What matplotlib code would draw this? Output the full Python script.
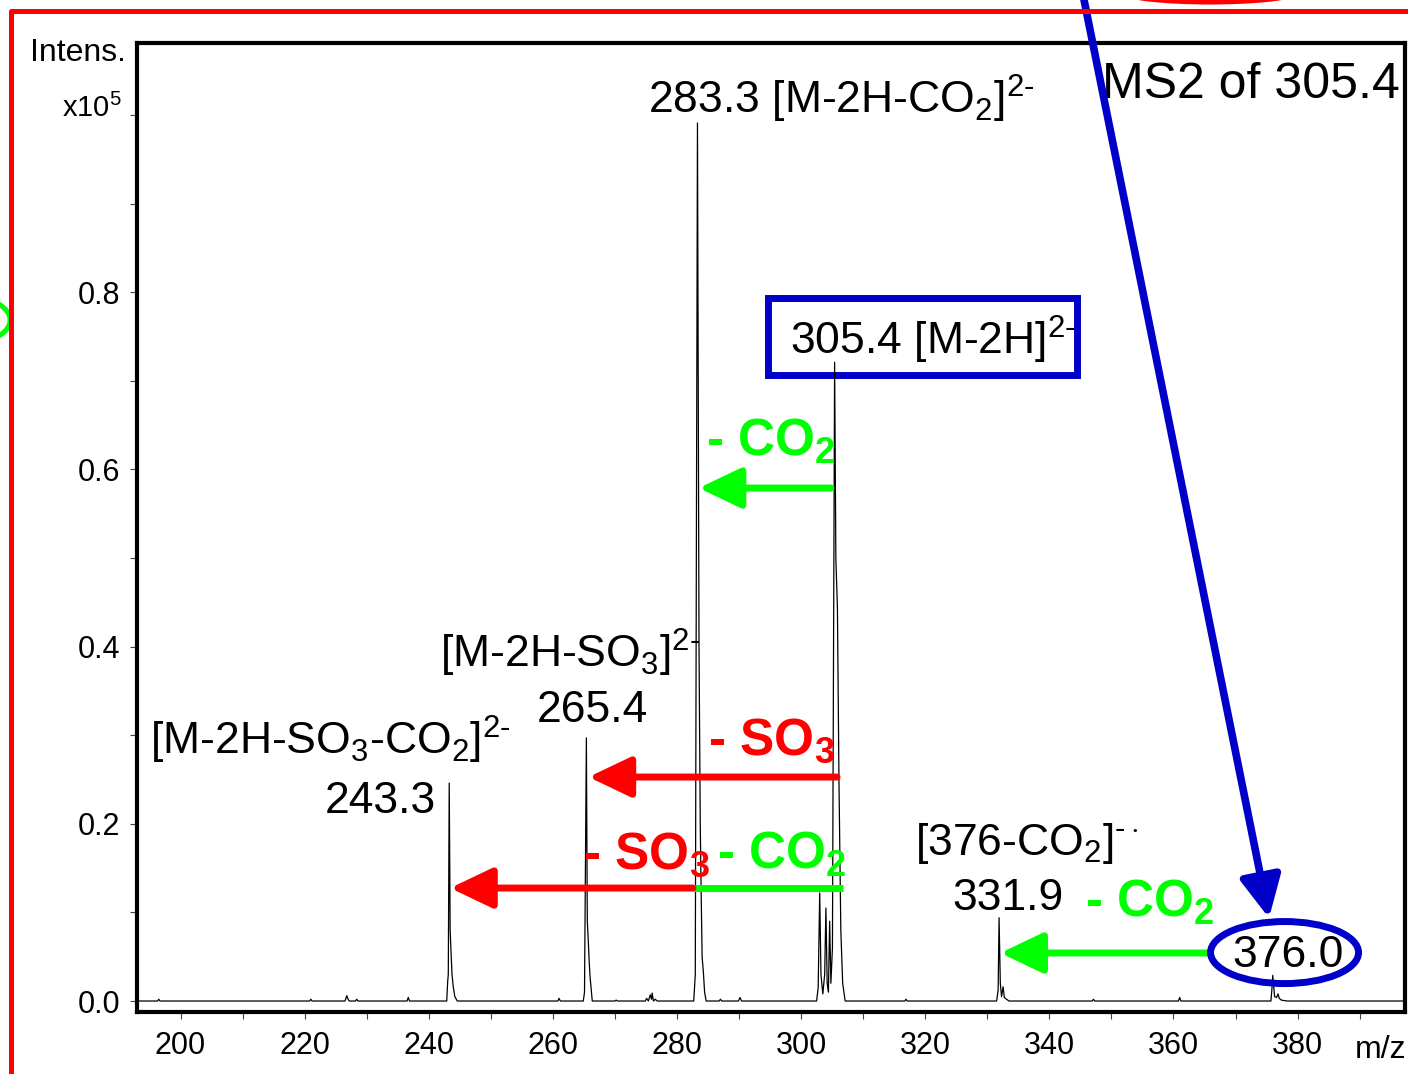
import numpy as np
import matplotlib
matplotlib.use('Agg')
import matplotlib.pyplot as plt
from matplotlib.patches import Ellipse, Rectangle
from matplotlib.lines import Line2D
from matplotlib.ticker import MultipleLocator, FixedLocator, FormatStrFormatter

plt.rcParams['font.family'] = ['Liberation Sans', 'DejaVu Sans']
plt.rcParams['mathtext.fontset'] = 'custom'
plt.rcParams['mathtext.rm'] = 'Liberation Sans'
plt.rcParams['mathtext.it'] = 'Liberation Sans'
plt.rcParams['mathtext.bf'] = 'Liberation Sans:bold'

# MS2 profile trace: m/z and intensity (x10^5)
mz = [193.0, 196.3, 196.5, 196.7, 220.8, 221.0, 221.2,
      226.5, 226.8, 227.0, 227.2, 228.2, 228.4, 228.6, 236.5, 236.7, 236.9,
      242.9, 243.05, 243.15, 243.3, 243.45, 243.6, 243.75, 243.95, 244.2, 244.6,
      260.8, 261.0, 261.2,
      264.9, 265.1, 265.4, 265.55, 265.7, 265.85, 266.0, 266.35,
      270.0, 270.2, 270.4, 274.9, 275.1, 275.4, 275.7, 275.9, 276.0, 276.2, 276.5, 276.8,
      282.7, 282.95, 283.3, 283.55, 283.75, 283.9, 284.05, 284.25, 284.45, 284.7,
      286.8, 287.0, 287.2, 289.9, 290.15, 290.4,
      302.5, 302.75, 303.0, 303.2, 303.5, 303.8, 304.0, 304.2, 304.4, 304.6, 304.8,
      305.05, 305.4, 305.6, 305.85, 306.1, 306.4, 306.7, 307.1,
      316.7, 316.9, 317.1,
      331.5, 331.75, 331.9, 332.1, 332.3, 332.55, 332.75, 333.1, 333.5,
      346.9, 347.1, 347.3, 360.8, 361.0, 361.2,
      375.7, 375.85, 376.0, 376.3, 376.6, 376.85, 377.05, 377.4, 378.3, 397.4]
intens = [0, 0, 0.002, 0, 0, 0.002, 0,
          0, 0.006, 0.002, 0, 0, 0.002, 0, 0, 0.004, 0,
          0, 0.022, 0.03, 0.246, 0.08, 0.054, 0.03, 0.016, 0.005, 0,
          0, 0.003, 0,
          0, 0.01, 0.297, 0.09, 0.069, 0.045, 0.027, 0,
          0, 0.001, 0, 0, 0.003, 0, 0.007, 0.002, 0.009, 0, 0.002, 0,
          0, 0.03, 0.991, 0.4, 0.2, 0.12, 0.05, 0.033, 0.01, 0,
          0, 0.002, 0, 0, 0.004, 0,
          0, 0.015, 0.122, 0.03, 0.008, 0.03, 0.105, 0.02, 0.01, 0.09, 0.02,
          0.06, 0.721, 0.5, 0.445, 0.25, 0.08, 0.02, 0,
          0, 0.002, 0,
          0, 0.012, 0.094, 0.02, 0.005, 0.016, 0.004, 0.002, 0,
          0, 0.002, 0, 0, 0.004, 0,
          0, 0.012, 0.029, 0.005, 0.004, 0.008, 0.003, 0.001, 0, 0]

x_major = [200, 220, 240, 260, 280, 300, 320, 340, 360, 380]
y_major = [0.0, 0.2, 0.4, 0.6, 0.8]
y_minor = [0.1, 0.3, 0.5, 0.7, 0.9, 1.0]

BLUE = '#0000C8'
RED = '#FF0000'
GREEN = '#00FF00'
CHG2 = '$^{2\\text{-}}$'

W, H = 1408, 1074
fig = plt.figure(figsize=(W / 100, H / 100), dpi=100)
ax = fig.add_axes([137 / W, 62 / H, 1268 / W, 969 / H])

ax.plot(mz, intens, color='black', lw=0.9)
ax.set_xlim(192.99, 397.31)
ax.set_ylim(-0.0124, 1.0813)

ax.xaxis.set_major_locator(FixedLocator(x_major))
ax.xaxis.set_minor_locator(MultipleLocator(10))
ax.yaxis.set_major_locator(FixedLocator(y_major))
ax.yaxis.set_minor_locator(FixedLocator(y_minor))
ax.yaxis.set_major_formatter(FormatStrFormatter('%.1f'))
ax.tick_params(which='both', direction='out', length=5, width=0.8, color='#444444')
ax.tick_params(axis='x', labelsize=22, pad=9)
ax.tick_params(axis='y', labelsize=22, pad=7)
for s in ax.spines.values():
    s.set_linewidth(3)

# peak labels
ax.text(275.33, 1.002, '283.3 [M-2H-CO$_2$]' + CHG2, fontsize=32, va='baseline')
ax.text(396.5, 1.019, 'MS2 of 305.4', fontsize=36, ha='right', va='baseline')
ax.text(298.2, 0.729, '305.4 [M-2H]' + CHG2, fontsize=32, va='baseline')
ax.add_patch(Rectangle((294.67, 0.7065), 49.79, 0.087, fill=False, ec=BLUE, lw=5))
ax.text(241.8, 0.376, '[M-2H-SO$_3$]' + CHG2, fontsize=32, va='baseline')
ax.text(257.4, 0.315, '265.4', fontsize=32, va='baseline')
ax.text(195.1, 0.278, '[M-2H-SO$_3$-CO$_2$]' + CHG2, fontsize=32, va='baseline')
ax.text(223.3, 0.212, '243.3', fontsize=32, va='baseline')
ax.text(318.35, 0.165, '[376-CO$_2$]$^{\\text{-}\\cdot}$', fontsize=32, va='baseline')
ax.text(324.3, 0.103, '331.9', fontsize=32, va='baseline')
ax.text(369.43, 0.038, '376.0', fontsize=32, va='baseline')
ax.add_patch(Ellipse((377.9, 0.0547), 23.85, 0.070, fill=False, ec=BLUE, lw=5,
                     clip_on=False, zorder=4))

# neutral losses
ax.text(284.68, 0.616, '- CO$_\\mathbf{2}$', fontsize=37, fontweight='bold', color=GREEN, va='baseline')
ax.text(285.0, 0.2777, '- SO$_\\mathbf{3}$', fontsize=37, fontweight='bold', color=RED, va='baseline')
ax.text(264.86, 0.150, '- SO$_\\mathbf{3}$', fontsize=37, fontweight='bold', color=RED, va='baseline')
ax.text(286.45, 0.150, '- CO$_\\mathbf{2}$', fontsize=37, fontweight='bold', color=GREEN, va='baseline')
ax.text(345.75, 0.0948, '- CO$_\\mathbf{2}$', fontsize=37, fontweight='bold', color=GREEN, va='baseline')

def loss_arrow(x0, x1, y, color):
    ax.annotate('', xy=(x1, y), xytext=(x0, y),
                arrowprops=dict(arrowstyle='-|>,head_length=1.3,head_width=0.62',
                                color=color, lw=5, mutation_scale=20,
                                shrinkA=0, shrinkB=0))

loss_arrow(304.8, 283.5, 0.579, GREEN)
loss_arrow(305.8, 265.75, 0.2528, RED)
loss_arrow(282.58, 243.45, 0.1275, RED)
ax.plot([282.58, 306.75], [0.1275, 0.1275], color=GREEN, lw=5, solid_capstyle='butt')
loss_arrow(365.9, 332.1, 0.0542, GREEN)

# precursor pointer coming from above
ax.annotate('', xy=(375.4, 0.0937), xytext=(345.4, 1.1366), annotation_clip=False,
            arrowprops=dict(arrowstyle='-|>,head_length=1.25,head_width=0.62',
                            color=BLUE, lw=5.5, mutation_scale=20,
                            shrinkA=0, shrinkB=0, clip_on=False))

# axis captions
fig.text(30 / W, 1 - 61 / H, 'Intens.', fontsize=23, va='baseline')
fig.text(62 / W, 1 - 117 / H, 'x10$^5$', fontsize=21, va='baseline')
fig.text(1355 / W, 1 - 1058 / H, 'm/z', fontsize=23, va='baseline')

# surrounding frame and partial outlines
fig.add_artist(Line2D([10.5 / W, 10.5 / W, 1.01], [-0.01, 1 - 11 / H, 1 - 11 / H],
                      transform=fig.transFigure, color=RED, lw=3.6))
fig.add_artist(Ellipse((1210 / W, 1 + 8 / H), 172 / W, 20 / H, transform=fig.transFigure,
                       fill=False, ec=RED, lw=3.6))
fig.add_artist(Ellipse((-30 / W, 1 - 320 / H), 80 / W, 46 / H, transform=fig.transFigure,
                       fill=False, ec=GREEN, lw=3.6))

fig.savefig('out.png', dpi=100)
